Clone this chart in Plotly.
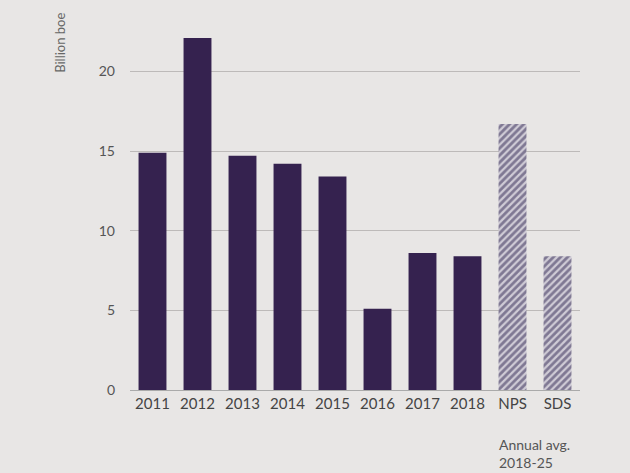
import plotly.graph_objects as go

categories = ["2011", "2012", "2013", "2014", "2015", "2016", "2017", "2018", "NPS", "SDS"]
values = [14.9, 22.1, 14.7, 14.2, 13.4, 5.1, 8.6, 8.4, 16.7, 8.4]
hist_n = 8
y_ticks = [0, 5, 10, 15, 20]

bar_color = "#35224f"
fig = go.Figure()
fig.add_trace(go.Bar(
    x=categories[:hist_n], y=values[:hist_n],
    marker=dict(color=bar_color, line=dict(width=0)),
    showlegend=False,
))
fig.add_trace(go.Bar(
    x=categories[hist_n:], y=values[hist_n:],
    marker=dict(color="#cfcbd6", line=dict(width=0),
                pattern=dict(shape="/", fgcolor="#2f2650", bgcolor="#cfcbd6", size=5, solidity=0.55)),
    showlegend=False,
))
fig.update_layout(
    width=630, height=473,
    margin=dict(l=130, r=50, t=30, b=83),
    paper_bgcolor="#e8e6e5", plot_bgcolor="#e8e6e5",
    bargap=0.38,
    font=dict(family="Lato, sans-serif", color="#555", size=13),
    xaxis=dict(categoryorder="array", categoryarray=categories, showgrid=False,
               showline=True, linecolor="#aaa", linewidth=1, ticks="",
               tickfont=dict(size=15, color="#444")),
    yaxis=dict(range=[0, 22.6], tickvals=y_ticks, showgrid=True, gridcolor="#bdbab9",
               zeroline=False, ticks="", ticklabelstandoff=14,
               tickfont=dict(size=14, color="#555")),
    annotations=[
        dict(text="Annual avg.<br>2018-25", x=8, y=0, xref="x", yref="y",
             xanchor="left", yanchor="top", yshift=-44, xshift=-16, showarrow=False,
             align="left", font=dict(size=14, color="#555")),
        dict(text="Billion boe", x=-0.156, y=0.875, xref="paper", yref="paper", showarrow=False,
             textangle=-90, xanchor="center", yanchor="bottom", font=dict(size=13, color="#666")),
    ],
)
fig.write_html("out.html")
